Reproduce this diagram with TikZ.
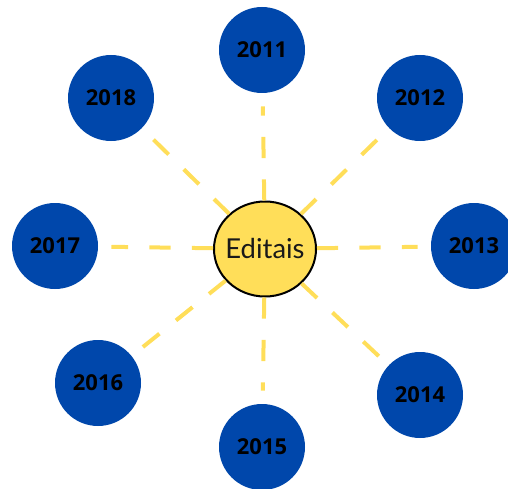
\documentclass[tikz,border=0pt]{standalone}
\usepackage{fontspec}
\setmainfont{Open Sans}
\newfontfamily\hubfont{Lato}
\usetikzlibrary{shapes.geometric}
\definecolor{yearblue}{HTML}{0047AB}
\definecolor{hubyellow}{HTML}{FFDE59}
\tikzstyle{spoke} = [line width=0.1cm, draw=hubyellow, dash pattern=on 0.53cm off 0.53cm, shorten >=0.33cm]
\tikzstyle{year} = [circle, fill=yearblue, minimum size=2.15cm, inner sep=0pt, text=black, font=\bfseries\fontsize{15.6}{18}\selectfont]
\tikzstyle{hub} = [ellipse, draw=black, line width=0.05cm, fill=hubyellow, minimum width=2.55cm, minimum height=2.375cm, inner xsep=-0.35cm, inner ysep=0pt, text=black!90, font=\hubfont\fontsize{19.5}{23}\selectfont]

\begin{document}
\begin{tikzpicture}
\useasboundingbox (0,0) rectangle (12.7,12.2);

% Placement of nodes
\node (editais) [hub] at (6.625,5.975) {Editais};
\node (y2011) [year] at (6.55,10.95) {2011};
\node (y2012) [year] at (10.5,9.75) {2012};
\node (y2013) [year] at (11.85,6.05) {2013};
\node (y2014) [year] at (10.5,2.325) {2014};
\node (y2015) [year] at (6.55,1.025) {2015};
\node (y2016) [year] at (2.45,2.625) {2016};
\node (y2017) [year] at (1.375,6.05) {2017};
\node (y2018) [year] at (2.775,9.75) {2018};

% Placement of edges
\draw [spoke] (editais) -- (y2011);
\draw [spoke] (editais) -- (y2012);
\draw [spoke] (editais) -- (y2013);
\draw [spoke] (editais) -- (y2014);
\draw [spoke] (editais) -- (y2015);
\draw [spoke] (editais) -- (y2016);
\draw [spoke] (editais) -- (y2017);
\draw [spoke] (editais) -- (y2018);

\end{tikzpicture}
\end{document}
